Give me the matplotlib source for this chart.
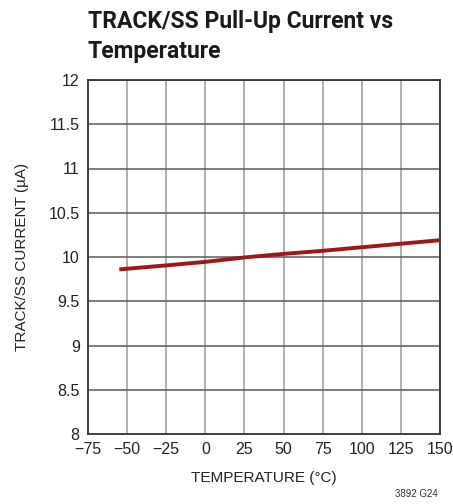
import matplotlib
matplotlib.use("Agg")
import matplotlib.pyplot as plt

temperature = [-55, -25, 0, 25, 50, 75, 100, 125, 150]
current = [9.86, 9.905, 9.945, 9.995, 10.035, 10.07, 10.11, 10.15, 10.19]
xticks = [-75, -50, -25, 0, 25, 50, 75, 100, 125, 150]
yticks = [8, 8.5, 9, 9.5, 10, 10.5, 11, 11.5, 12]
ytick_labels = ["8", "8.5", "9", "9.5", "10", "10.5", "11", "11.5", "12"]

plt.rcParams['font.family'] = ['Liberation Sans', 'DejaVu Sans']

fig = plt.figure(figsize=(4.53, 5.04), dpi=100)
ax = fig.add_axes([88/453, 70/504, 352/453, 354/504])

ax.set_xlim(-75, 150)
ax.set_ylim(8, 12)
ax.set_xticks(xticks)
ax.set_xticklabels([str(t).replace('-', '\u2212') for t in xticks])
ax.set_yticks(yticks)
ax.set_yticklabels(ytick_labels)
ax.tick_params(length=0, labelsize=11.5, colors='#222222', pad=6)

for t in xticks[1:]:
    ax.axvline(t, color='#9a9a9a', lw=1.1, zorder=1)
for t in yticks[1:]:
    ax.axhline(t, color='#5a5a5a', lw=1.1, zorder=1)

for s in ax.spines.values():
    s.set_color('#333333')
    s.set_linewidth(1.3)

ax.plot(temperature, current, color='#a0161e', lw=2.8, zorder=3, solid_capstyle='butt')

ax.set_xlabel("TEMPERATURE (°C)", fontsize=11, color='#222222', labelpad=10)
ax.set_ylabel("TRACK/SS CURRENT (µA)", fontsize=11, color='#222222', labelpad=14)

fig.text(88/453, 1 - 10/504, "TRACK/SS Pull-Up Current vs\nTemperature",
         fontsize=16.5, fontweight='bold', family=['Roboto', 'DejaVu Sans'],
         ha='left', va='top', color='#1a1a1a', linespacing=1.4)
fig.text(438/453, 1 - 494/504, "3892 G24", fontsize=7, ha='right', va='center', color='#333333')

fig.savefig("out.png", dpi=100)
